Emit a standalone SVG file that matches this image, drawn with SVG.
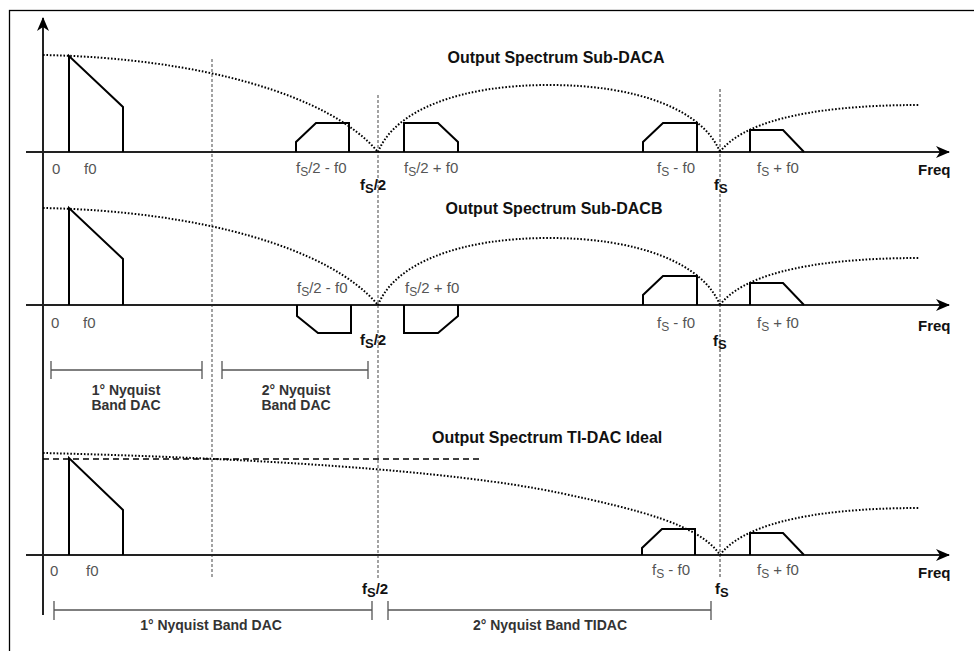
<svg xmlns="http://www.w3.org/2000/svg" width="974" height="651" viewBox="0 0 974 651">
<defs>
<marker id="arr" viewBox="0 0 14 12" refX="13" refY="6" markerWidth="14" markerHeight="12" markerUnits="userSpaceOnUse" orient="auto"><path d="M0,0 L14,6 L0,12 L4,6 Z" fill="#000"/></marker>
<style>
.axis{stroke:#222;stroke-width:2;fill:none}
.sh{stroke:#000;stroke-width:2;fill:none;stroke-linejoin:miter}
.dot{stroke:#000;stroke-width:2;fill:none;stroke-dasharray:1.6 1.8}
.vg{stroke:#666;stroke-width:1.2;stroke-dasharray:3 2}
.vk{stroke:#333;stroke-width:1;stroke-dasharray:3 2}
text{font-family:"Liberation Sans",Arial,sans-serif}
.t{font-size:16px;font-weight:bold;fill:#111}
.g{font-size:15px;fill:#555}
.b{font-size:15px;font-weight:bold;fill:#111}
.n{font-size:14px;font-weight:bold;fill:#333;text-anchor:middle}
.band{stroke:#555;stroke-width:1.3;fill:none}
</style>
</defs>
<rect x="0" y="0" width="974" height="651" fill="#fff"/>
<rect x="9.5" y="10.5" width="980" height="660" fill="#fff" stroke="#000" stroke-width="1.3"/>

<g id="guides">
<line class="vg" x1="212" y1="59" x2="212" y2="578"/>
<line class="vg" x1="378" y1="95" x2="378" y2="578"/>
<line class="vk" x1="720" y1="89" x2="720" y2="578"/>
</g>

<g id="connectors">
<line class="axis" x1="43" y1="615" x2="43" y2="18" marker-end="url(#arr)"/>
<line class="axis" x1="26" y1="152" x2="949" y2="152" marker-end="url(#arr)"/>
<line class="axis" x1="26" y1="305" x2="949" y2="305" marker-end="url(#arr)"/>
<line class="axis" x1="26" y1="555" x2="949" y2="555" marker-end="url(#arr)"/>
</g>

<g id="panel-a">
<path class="dot" d="M43,55 C200,58 330,95 378,152"/>
<path class="dot" d="M378,152 C395,110 460,85 549,85 C638,85 703,110 720,152"/>
<path class="dot" d="M720,152 C740,125 800,105 920,105"/>
<path class="sh" d="M69,152 V56 L123,107 V152"/>
<path class="sh" d="M296,152 V142 L316,123 H349 V152"/>
<path class="sh" d="M404,152 V123 H438 L458,142 V152"/>
<path class="sh" d="M643,152 V142 L663,123 H697 V152"/>
<path class="sh" d="M750,152 V130 H783 L804,152"/>
<text class="t" x="556" y="63" text-anchor="middle">Output Spectrum Sub-DACA</text>
<text class="g" x="52" y="174">0</text>
<text class="g" x="84" y="174">f0</text>
<text class="g" x="296" y="173">f<tspan font-size="12" dy="3">S</tspan><tspan dy="-3">/2 - f0</tspan></text>
<text class="g" x="404" y="173">f<tspan font-size="12" dy="3">S</tspan><tspan dy="-3">/2 + f0</tspan></text>
<text class="g" x="657" y="173">f<tspan font-size="12" dy="3">S</tspan><tspan dy="-3"> - f0</tspan></text>
<text class="g" x="757" y="173">f<tspan font-size="12" dy="3">S</tspan><tspan dy="-3"> + f0</tspan></text>
<text class="b" x="360" y="190">f<tspan font-size="13" dy="3">S</tspan><tspan dy="-3">/2</tspan></text>
<text class="b" x="714" y="190">f<tspan font-size="13" dy="3">S</tspan></text>
<text class="b" x="918" y="175">Freq</text>
</g>

<g id="panel-b">
<path class="dot" d="M43,208 C200,211 330,248 378,305"/>
<path class="dot" d="M378,305 C395,263 460,238 549,238 C638,238 703,263 720,305"/>
<path class="dot" d="M720,305 C740,278 800,258 920,258"/>
<path class="sh" d="M69,305 V208 L123,259 V305"/>
<path class="sh" d="M297,305 V316 L318,333 H351 V305"/>
<path class="sh" d="M404,305 V333 H438 L458,316 V305"/>
<path class="sh" d="M643,305 V295 L663,276 H697 V305"/>
<path class="sh" d="M750,305 V283 H783 L804,305"/>
<text class="t" x="554" y="214" text-anchor="middle">Output Spectrum Sub-DACB</text>
<text class="g" x="51" y="328">0</text>
<text class="g" x="83" y="328">f0</text>
<text class="g" x="297" y="293">f<tspan font-size="12" dy="3">S</tspan><tspan dy="-3">/2 - f0</tspan></text>
<text class="g" x="405" y="293">f<tspan font-size="12" dy="3">S</tspan><tspan dy="-3">/2 + f0</tspan></text>
<text class="g" x="657" y="328">f<tspan font-size="12" dy="3">S</tspan><tspan dy="-3"> - f0</tspan></text>
<text class="g" x="757" y="328">f<tspan font-size="12" dy="3">S</tspan><tspan dy="-3"> + f0</tspan></text>
<text class="b" x="360" y="345">f<tspan font-size="13" dy="3">S</tspan><tspan dy="-3">/2</tspan></text>
<text class="b" x="713" y="346">f<tspan font-size="13" dy="3">S</tspan></text>
<text class="b" x="918" y="331">Freq</text>
</g>

<g id="bands-b">
<path class="band" d="M51,361 V379 M51,370 H202 M202,361 V379"/>
<path class="band" d="M222,361 V379 M222,370 H368 M368,361 V379"/>
<text class="n" x="126" y="395">1° Nyquist</text>
<text class="n" x="126" y="410">Band DAC</text>
<text class="n" x="296" y="395">2° Nyquist</text>
<text class="n" x="296" y="410">Band DAC</text>
</g>

<g id="panel-c">
<line x1="43" y1="459" x2="481" y2="459" stroke="#000" stroke-width="1.6" stroke-dasharray="6 4"/>
<path class="dot" d="M43,453 C250,458 450,470 560,493 C640,510 700,525 720,555"/>
<path class="dot" d="M720,555 C740,528 800,508 920,508"/>
<path class="sh" d="M69,555 V458 L123,510 V555"/>
<path class="sh" d="M642,555 V548 L662,529 H695 V555"/>
<path class="sh" d="M750,555 V533 H783 L804,555"/>
<text class="t" x="432" y="443">Output Spectrum TI-DAC Ideal</text>
<text class="g" x="50" y="576">0</text>
<text class="g" x="86" y="576">f0</text>
<text class="g" x="652" y="575">f<tspan font-size="12" dy="3">S</tspan><tspan dy="-3"> - f0</tspan></text>
<text class="g" x="757" y="575">f<tspan font-size="12" dy="3">S</tspan><tspan dy="-3"> + f0</tspan></text>
<text class="b" x="362" y="594">f<tspan font-size="13" dy="3">S</tspan><tspan dy="-3">/2</tspan></text>
<text class="b" x="715" y="594">f<tspan font-size="13" dy="3">S</tspan></text>
<text class="b" x="918" y="578">Freq</text>
</g>

<g id="bands-c">
<path class="band" d="M54,601 V620 M54,610 H372 M372,601 V620"/>
<path class="band" d="M388,601 V620 M388,610 H711 M711,601 V620"/>
<text class="n" x="211" y="630">1° Nyquist Band DAC</text>
<text class="n" x="550" y="630">2° Nyquist Band TIDAC</text>
</g>
</svg>
